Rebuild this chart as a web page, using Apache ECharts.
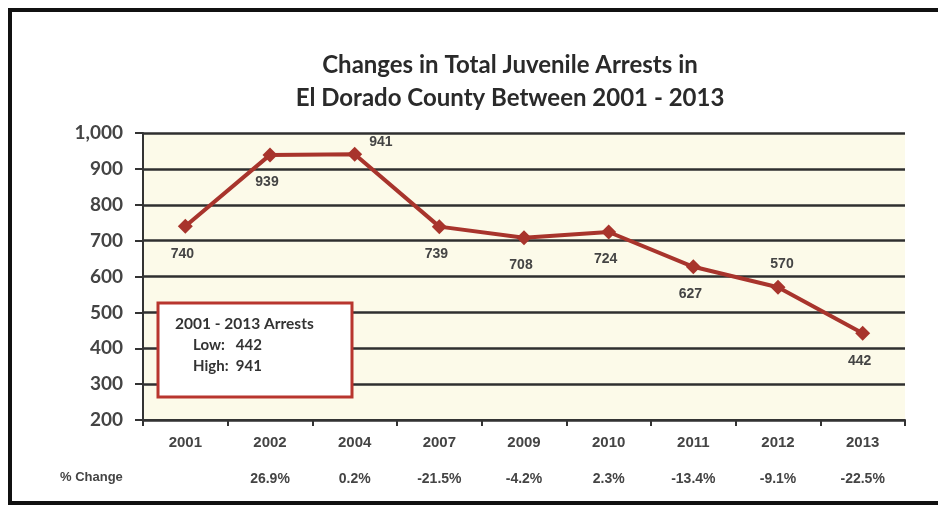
<!DOCTYPE html>
<html>
<head>
<meta charset="utf-8">
<script src="https://cdn.jsdelivr.net/npm/echarts@6/dist/echarts.min.js"></script>
<style>html,body{margin:0;padding:0;background:#fff}#c{width:938px;height:510px}</style>
</head>
<body>
<div id="c"></div>
<script>
const years = ['2001','2002','2004','2007','2009','2010','2011','2012','2013'];
const arrests = [740, 939, 941, 739, 708, 724, 627, 570, 442];
const pctChange = ['', '26.9%', '0.2%', '-21.5%', '-4.2%', '2.3%', '-13.4%', '-9.1%', '-22.5%'];
const yTicks = [200, 300, 400, 500, 600, 700, 800, 900, 1000];
const labelPlacement = ['bottom','bottom','right','bottom','bottom','bottom','bottom','top','bottom'];

const lowVal = Math.min(...arrests);
const highVal = Math.max(...arrests);
const red = '#a8342c';
const txt = '#444444';

const chart = echarts.init(document.getElementById('c'));
const seriesData = arrests.map((v, i) => ({
  value: v,
  label: {
    position: labelPlacement[i],
    offset: labelPlacement[i] === 'right' ? [2, -12] : (labelPlacement[i] === 'top' ? [4, -4] : [-3, 8])
  }
}));

chart.setOption({
  animation: false,
  backgroundColor: '#ffffff',
  title: {
    text: 'Changes in Total Juvenile Arrests in\nEl Dorado County Between 2001 - 2013',
    left: 505, top: 44, textAlign: 'center',
    textStyle: { fontFamily: 'Lato', fontWeight: 'bold', fontSize: 24, lineHeight: 33, color: '#2a2a2a' }
  },
  grid: { left: 143, right: 33, top: 133, bottom: 90, show: true, backgroundColor: '#fcfae9', borderWidth: 0 },
  xAxis: [{
    type: 'category', data: years, boundaryGap: true, position: 'bottom',
    axisLine: { lineStyle: { color: '#333', width: 2 } },
    axisTick: { show: true, length: 6, lineStyle: { color: '#333', width: 2 } },
    axisLabel: { margin: 15, fontFamily: 'Liberation Sans', fontWeight: 'bold', fontSize: 15, color: txt }
  }, {
    type: 'category', data: pctChange, boundaryGap: true, position: 'bottom', offset: 36,
    axisLine: { show: false }, axisTick: { show: false },
    axisLabel: { margin: 16, fontFamily: 'Liberation Sans', fontWeight: 'bold', fontSize: 14, color: txt, interval: 0 }
  }],
  yAxis: {
    type: 'value', min: yTicks[0], max: yTicks[yTicks.length - 1], interval: 100,
    axisLine: { show: true, lineStyle: { color: '#333', width: 2 } },
    axisTick: { show: true, length: 8, lineStyle: { color: '#333', width: 2 } },
    splitLine: { lineStyle: { color: '#2f2f2f', width: 2.5 } },
    axisLabel: {
      margin: 20, fontFamily: 'Lato', fontWeight: 'bold', fontSize: 19, color: txt,
      formatter: v => v.toLocaleString('en-US')
    }
  },
  series: [{
    type: 'line', data: seriesData, xAxisIndex: 0,
    symbol: 'diamond', symbolSize: 15,
    lineStyle: { color: red, width: 4 },
    itemStyle: { color: red },
    label: { show: true, fontFamily: 'Liberation Sans', fontWeight: 'bold', fontSize: 14, color: txt }
  }],
  graphic: [
    { type: 'rect', shape: { x: 10, y: 10, width: 960, height: 493 }, style: { fill: 'none', stroke: '#111', lineWidth: 4 }, z: 100 },
    { type: 'text', left: 60, top: 471, style: { text: '% Change', fontFamily: 'Liberation Sans', fontWeight: 'bold', fontSize: 13, fill: txt } },
    { type: 'rect', shape: { x: 158, y: 303, width: 194, height: 94 }, style: { fill: '#ffffff', stroke: '#b8352e', lineWidth: 3 }, z: 50 },
    { type: 'text', left: 175, top: 316, z: 51, style: { text: '2001 - 2013 Arrests', fontFamily: 'Lato', fontWeight: 'bold', fontSize: 15.5, fill: '#333' } },
    { type: 'text', left: 193, top: 338, z: 51, style: { text: 'Low:   ' + lowVal, fontFamily: 'Lato', fontWeight: 'bold', fontSize: 15, fill: '#333' } },
    { type: 'text', left: 193, top: 359, z: 51, style: { text: 'High:  ' + highVal, fontFamily: 'Lato', fontWeight: 'bold', fontSize: 15, fill: '#333' } }
  ]
});
</script>
</body>
</html>
